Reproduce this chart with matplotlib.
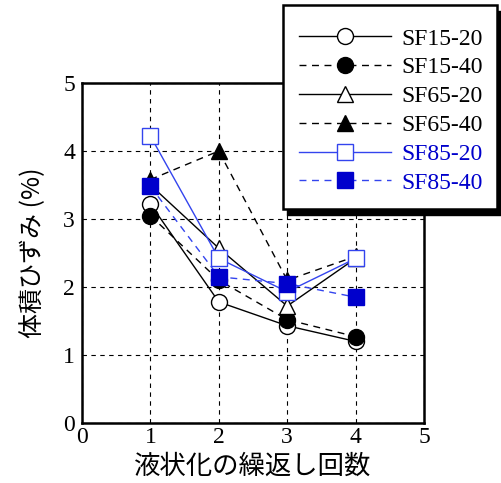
import matplotlib.pyplot as plt
from matplotlib.lines import Line2D
from matplotlib.patches import Rectangle

plt.rcParams['font.family'] = ['Liberation Serif', 'Noto Sans CJK JP']

# data
cycles = [1, 2, 3, 4]
sf15_20 = [3.22, 1.78, 1.43, 1.20]
sf15_40 = [3.05, 2.10, 1.52, 1.27]
sf65_20 = [3.50, 2.57, 1.72, 2.42]
sf65_40 = [3.58, 4.00, 2.10, 2.45]
sf85_20 = [4.22, 2.42, 1.93, 2.42]
sf85_40 = [3.48, 2.15, 2.05, 1.85]
labels = ["SF15-20", "SF15-40", "SF65-20", "SF65-40", "SF85-20", "SF85-40"]

blue = '#0000cc'
lblue = '#3344ee'
W, H = 501, 483

fig = plt.figure(figsize=(W / 100, H / 100), dpi=100)
ax = fig.add_axes([82/W, 1 - 423/H, 342/W, 340/H])

ms = 11.5
series = [
    (sf15_20, dict(color='k', ls='-', lw=1, marker='o', mfc='white', mec='k')),
    (sf15_40, dict(color='k', ls=(0, (5, 4)), lw=1, marker='o', mfc='k', mec='k')),
    (sf65_20, dict(color='k', ls='-', lw=1, marker='^', mfc='white', mec='k')),
    (sf65_40, dict(color='k', ls=(0, (5, 4)), lw=1, marker='^', mfc='k', mec='k')),
    (sf85_20, dict(color=lblue, ls='-', lw=1, marker='s', mfc='white', mec=lblue)),
    (sf85_40, dict(color=lblue, ls=(0, (5, 4)), lw=1, marker='s', mfc=blue, mec=blue)),
]
handles = []
for vals, st in series:
    ax.plot(cycles, vals, ms=ms, mew=1, zorder=3, **st)
    handles.append(Line2D([], [], ms=ms, mew=1, **st))

ax.set_xlim(0, 5)
ax.set_ylim(0, 5)
ax.set_xticks(range(6))
ax.set_yticks(range(6))
ax.grid(True, color='k', ls=(0, (4, 4)), lw=0.8)
ax.tick_params(direction='in', length=0, labelsize=17)
ax.tick_params(axis='y', pad=5)
ax.tick_params(axis='x', pad=3)
for s in ax.spines.values():
    s.set_linewidth(1.8)
ax.set_xlabel("液状化の繰返し回数", fontsize=19, labelpad=3, family='Noto Sans CJK JP')
ax.set_ylabel("体積ひずみ (%)", fontsize=18, labelpad=12, family='Noto Sans CJK JP')

# legend box with a hard drop shadow, drawn by hand
x0, x1, y0, y1 = 283, 497, 5, 209
shadow = Rectangle((x0 + 4, H - y1 - 6), x1 - x0, y1 - y0, fc='k', ec='k',
                   transform=None, zorder=4)
box = Rectangle((x0, H - y1), x1 - x0, y1 - y0, fc='white', ec='k', lw=1.8,
                transform=None, zorder=4.5)
fig.add_artist(shadow)
fig.add_artist(box)

leg = fig.legend(handles, labels, loc='upper left', bbox_to_anchor=(299/W, 1 - 28/H),
                 borderaxespad=0, borderpad=0, fontsize=17, handlelength=3.9,
                 labelspacing=0.31, handletextpad=0.45, frameon=False)
leg.set_zorder(5)
for t in leg.get_texts()[4:]:
    t.set_color(blue)

fig.savefig('out.png', dpi=100)
